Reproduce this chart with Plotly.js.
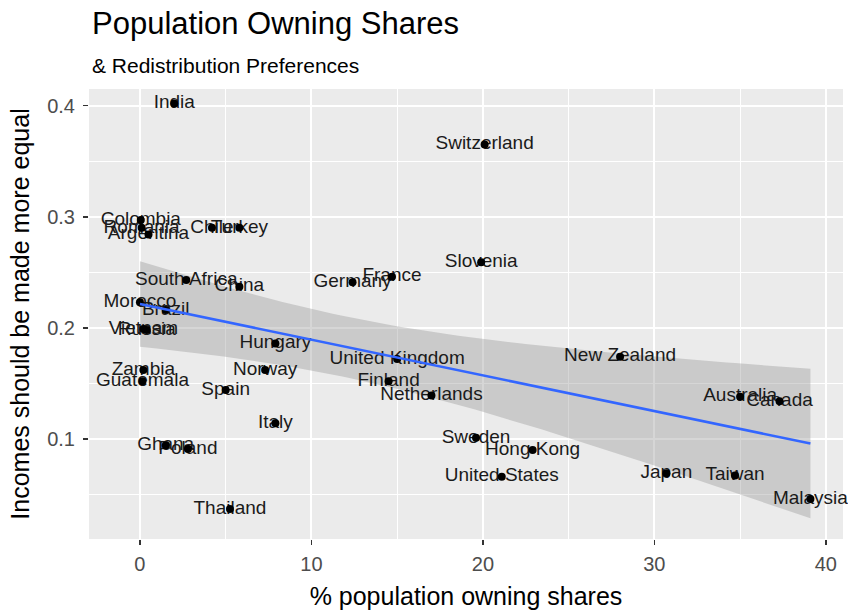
<!DOCTYPE html>
<html>
<head>
<meta charset="utf-8">
<script src="https://cdn.plot.ly/plotly-3.0.1.min.js"></script>
<style>html,body{margin:0;padding:0;background:#fff;}#chart{width:848px;height:612px;}</style>
</head>
<body>
<div id="chart"></div>
<script>
const countries = ["India","Switzerland","Colombia","Romania","Argentina","Chile","Turkey","Slovenia","France","Germany","South Africa","China","Morocco","Brazil","Vietnam","Russia","Hungary","United Kingdom","New Zealand","Zambia","Norway","Guatemala","Finland","Spain","Netherlands","Australia","Canada","Italy","Sweden","Ghana","Poland","Hong Kong","Japan","Taiwan","United States","Malaysia","Thailand"];
const shares = [2.0,20.1,0.05,0.1,0.5,4.2,5.8,19.9,14.7,12.4,2.7,5.8,0.0,1.5,0.2,0.4,7.9,15.0,28.0,0.2,7.3,0.15,14.5,5.0,17.0,35.0,37.3,7.9,19.6,1.5,2.8,22.9,30.7,34.7,21.1,39.1,5.25];
const moreEqual = [0.402,0.365,0.297,0.290,0.284,0.290,0.290,0.259,0.246,0.241,0.243,0.237,0.223,0.216,0.199,0.198,0.186,0.172,0.174,0.162,0.162,0.152,0.152,0.144,0.139,0.138,0.134,0.114,0.101,0.094,0.091,0.090,0.069,0.067,0.066,0.046,0.037];

// linear fit with 95% confidence band (like geom_smooth(method = "lm"))
const n = shares.length;
const xbar = shares.reduce((a,b)=>a+b,0)/n;
const ybar = moreEqual.reduce((a,b)=>a+b,0)/n;
let sxx=0, sxy=0;
for (let i=0;i<n;i++){ sxx += (shares[i]-xbar)**2; sxy += (shares[i]-xbar)*(moreEqual[i]-ybar); }
const slope = sxy/sxx, intercept = ybar - slope*xbar;
let sse=0;
for (let i=0;i<n;i++){ sse += (moreEqual[i]-intercept-slope*shares[i])**2; }
const s = Math.sqrt(sse/(n-2));
const tcrit = 2.03;
const xmin = Math.min(...shares), xmax = Math.max(...shares);
const fx=[], fy=[], lo=[], hi=[];
for (let k=0;k<=80;k++){
  const x = xmin + (xmax-xmin)*k/80;
  const y = intercept + slope*x;
  const se = s*Math.sqrt(1/n + (x-xbar)**2/sxx);
  fx.push(x); fy.push(y); lo.push(y - tcrit*se); hi.push(y + tcrit*se);
}

const traces = [
  {x: fx.concat(fx.slice().reverse()), y: hi.concat(lo.slice().reverse()), type:'scatter', mode:'lines',
   fill:'toself', fillcolor:'rgba(153,153,153,0.4)', line:{width:0}, hoverinfo:'skip', showlegend:false},
  {x: shares, y: moreEqual, text: countries, type:'scatter', mode:'text', textposition:'middle center',
   textfont:{family:'"Liberation Sans", Arial, sans-serif', size:19, color:'#1a1a1a'}, cliponaxis:false, hoverinfo:'skip', showlegend:false},
  {x: shares, y: moreEqual, type:'scatter', mode:'markers', marker:{color:'#000', size:8}, cliponaxis:false, showlegend:false},
  {x: fx, y: fy, type:'scatter', mode:'lines', line:{color:'#3366FF', width:2.5}, hoverinfo:'skip', showlegend:false}
];

const tickFont = {family:'"Liberation Sans", Arial, sans-serif', size:20, color:'#4D4D4D'};
const titleFont = {family:'"Liberation Sans", Arial, sans-serif', size:25, color:'#000'};

const layout = {
  width:848, height:612,
  margin:{l:89, r:5, t:89, b:73},
  paper_bgcolor:'#FFFFFF', plot_bgcolor:'#EBEBEB',
  showlegend:false,
  xaxis:{range:[-2.97,41.0], tickvals:[0,10,20,30,40], ticktext:['0','10','20','30','40'],
    showgrid:true, gridcolor:'#FFFFFF', gridwidth:2, zeroline:false, showline:false,
    ticks:'outside', ticklen:5, tickwidth:1.5, tickcolor:'#333333', tickfont:tickFont, ticklabelstandoff:2,
    minor:{tickvals:[5,15,25,35], showgrid:true, gridcolor:'#FFFFFF', gridwidth:1, ticks:''},
    title:{text:'% population owning shares', font:titleFont, standoff:13}},
  yaxis:{range:[0.0099,0.415], tickvals:[0.1,0.2,0.3,0.4], ticktext:['0.1','0.2','0.3','0.4'],
    showgrid:true, gridcolor:'#FFFFFF', gridwidth:2, zeroline:false, showline:false,
    ticks:'outside', ticklen:5, tickwidth:1.5, tickcolor:'#333333', tickfont:tickFont, ticklabelstandoff:4,
    minor:{tickvals:[0.05,0.15,0.25,0.35], showgrid:true, gridcolor:'#FFFFFF', gridwidth:1, ticks:''},
    title:{text:'Incomes should be made more equal', font:titleFont, standoff:10}},
  annotations:[
    {text:'Population Owning Shares', xref:'paper', yref:'paper', x:0, y:1.145, xanchor:'left', yanchor:'middle', xshift:1,
     showarrow:false, font:{family:'"Liberation Sans", Arial, sans-serif', size:31, color:'#000'}},
    {text:'& Redistribution Preferences', xref:'paper', yref:'paper', x:0, y:1.053, xanchor:'left', yanchor:'middle', xshift:1,
     showarrow:false, font:{family:'"Liberation Sans", Arial, sans-serif', size:21, color:'#000'}}
  ]
};

Plotly.newPlot('chart', traces, layout, {displayModeBar:false, staticPlot:true});
</script>
</body>
</html>
